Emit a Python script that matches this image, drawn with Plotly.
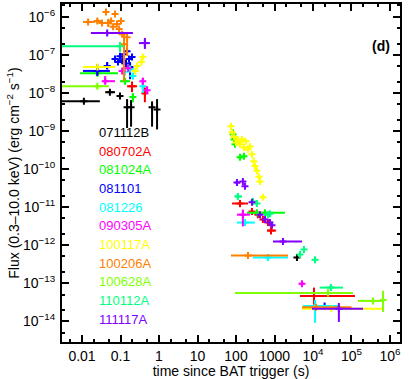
import plotly.graph_objects as go

# each row: (t, t_lo, t_hi, flux, flux_lo, flux_hi)  -- None = no error
grb_071112B = [
    (0.0112, 0.003, 0.029, 6.1e-9, 5.5e-9, 6.8e-9),
    (0.053, 0.040, 0.072, 1.05e-8, None, None),
    (0.097, 0.086, 0.11, 8.3e-9, 7.5e-9, 9.2e-9),
    (0.148, 0.139, 0.157, 4.2e-9, 1.2e-9, 6.9e-9),
    (0.188, 0.177, 0.199, 4.2e-9, 1.3e-9, 6.5e-9),
    (0.66, 0.62, 0.70, 4.2e-9, 1.3e-9, 6.0e-9),
    (0.89, None, None, 3.7e-9, 1.1e-9, 6.9e-9),
    (3830, None, None, 4.7e-13, None, None),
]
grb_080702A = [
    (0.199, 0.148, 0.27, 1.5e-8, 1.05e-8, 2.0e-8),
    (0.43, 0.36, 0.50, 9.8e-9, 5.7e-9, 1.4e-8),
    (127, 79, 205, 1.24e-11, 9.8e-12, 1.5e-11),
    (260, None, None, 7.6e-12, None, None),
    (370, 330, 410, 6.3e-12, 5.5e-12, 7.2e-12),
    (500, None, None, 4.7e-12, None, None),
    (675, None, None, 3.9e-12, None, None),
    (810, 640, 1100, 2.4e-12, 1.9e-12, 3.1e-12),
    (1.06e4, 4590, 1.23e5, 4.6e-14, 2.7e-14, 7.6e-14),
]
grb_081024A = [
    (0.025, 0.0089, 0.086, 3.3e-8, 2.9e-8, 3.8e-8),
    (0.131, 0.097, 0.177, 2.04e-8, None, None),
    (0.21, 0.177, 0.24, 7.8e-9, 5.7e-9, 9.8e-9),
    (84, None, None, 8.1e-10, 6.0e-10, 1.1e-9),
    (89, None, None, 6.0e-10, None, None),
    (94, None, None, 4.5e-10, None, None),
    (127, 112, 151, 2.04e-10, 1.8e-10, 2.4e-10),
    (161, 151, 176, 2.15e-10, None, None),
    (350, None, None, 7.1e-12, None, None),
    (565, 193, 1870, 7.1e-12, 6.3e-12, 8.0e-12),
]
grb_081101 = [
    (0.025, 0.0106, 0.053, 3.8e-8, 2.8e-8, 5.7e-8),
    (0.045, 0.040, 0.053, 5.1e-8, 4.3e-8, 6.5e-8),
    (0.072, None, None, 7.8e-8, None, None),
    (0.086, None, None, 6.5e-8, None, None),
    (0.097, None, None, 9.3e-8, None, None),
    (0.11, None, None, 7.0e-8, None, None),
    (0.123, None, None, 1.05e-7, None, None),
    (0.139, None, None, 6.0e-8, None, None),
    (0.148, None, None, 1.25e-7, None, None),
    (0.166, None, None, 7.8e-8, None, None),
    (0.177, None, None, 4.8e-8, 2.3e-8, 6.5e-8),
    (0.199, None, None, 8.8e-8, None, None),
    (2.0e4, None, None, 2.5e-14, None, None),
]
grb_081226 = [
    (0.131, None, None, 3.6e-8, None, None),
    (0.177, None, None, 4.3e-8, None, None),
    (0.21, None, None, 2.8e-8, 2.3e-8, 3.3e-8),
    (0.38, None, None, 1.5e-8, 1.0e-8, 2.0e-8),
    (171, 106, 310, 3.9e-12, 3.5e-12, 4.4e-12),
    (675, 276, 2240, 4.7e-13, 4.0e-13, 5.6e-13),
    (1.13e4, 5500, 4.46e4, 2.5e-14, 9.0e-15, 3.6e-14),
]
grb_090305A = [
    (0.040, 0.035, 0.072, 2.04e-8, 1.7e-8, 2.8e-8),
    (0.11, None, None, 3.8e-8, None, None),
    (0.157, None, None, 4.5e-8, None, None),
    (0.38, None, None, 2.04e-8, 1.7e-8, 2.5e-8),
    (0.49, None, None, 1.18e-8, 9.3e-9, 1.5e-8),
    (151, 106, 230, 6.3e-12, 3.1e-12, 8.6e-12),
    (5170, 4590, 5830, 9.6e-14, 8.5e-14, 1.1e-13),
]
grb_100117A = [
    (0.025, 0.0106, 0.072, 4.8e-8, None, None),
    (0.24, None, None, 3.8e-8, None, None),
    (0.27, None, None, 5.1e-8, None, None),
    (0.35, None, None, 6.5e-8, None, None),
    (0.38, None, None, 8.8e-8, None, None),
    (74, None, None, 1.33e-9, 1.1e-9, 1.6e-9),
    (79, None, None, 9.3e-10, None, None),
    (89, None, None, 7.0e-10, None, None),
    (100, None, None, 5.0e-10, None, None),
    (112, None, None, 6.0e-10, None, None),
    (127, None, None, 4.5e-10, None, None),
    (143, None, None, 6.0e-10, None, None),
    (161, None, None, 3.7e-10, None, None),
    (180, None, None, 5.4e-10, None, None),
    (205, None, None, 3.3e-10, None, None),
    (230, None, None, 3.9e-10, None, None),
    (260, None, None, 2.45e-10, None, None),
    (290, None, None, 1.6e-10, None, None),
    (310, None, None, 1.2e-10, None, None),
    (350, None, None, 9.0e-11, None, None),
    (395, None, None, 6.3e-11, None, None),
    (420, None, None, 4.7e-11, None, None),
    (500, 440, 570, 1.8e-11, 1.5e-11, 2.2e-11),
    (3.0e4, 5170, 6.6e5, 2.1e-14, None, None),
]
grb_100206A = [
    (0.0144, 0.0106, 0.022, 7.4e-7, None, None),
    (0.025, 0.022, 0.031, 7.8e-7, 6.9e-7, 8.9e-7),
    (0.033, None, None, 6.9e-7, None, None),
    (0.042, None, None, 1.35e-6, None, None),
    (0.048, None, None, 6.9e-7, 5.5e-7, 8.9e-7),
    (0.057, None, None, 7.8e-7, None, None),
    (0.064, None, None, 5.5e-7, None, None),
    (0.072, None, None, 1.2e-6, None, None),
    (0.081, None, None, 6.5e-7, None, None),
    (0.092, None, None, 4.8e-7, None, None),
    (0.103, None, None, 7.8e-7, None, None),
    (0.11, None, None, 3.5e-7, None, None),
    (0.123, None, None, 1.9e-7, 2.0e-8, 4.0e-7),
    (0.148, None, None, 2.9e-7, 9.3e-8, 4.0e-7),
    (205, 74, 2240, 5.3e-13, 4.7e-13, 6.0e-13),
    (1.2e4, 5170, 1.0e5, 2.3e-14, None, None),
]
grb_100628A = [
    (0.025, 0.003, 0.05, 1.5e-8, 1.3e-8, 1.7e-8),
    (2.45e4, 94, 1.09e5, 5.5e-14, 4.5e-14, 6.8e-14),
    (3.6e5, 1.47e5, 6.6e5, 3.4e-14, 3.0e-14, 3.8e-14),
    (6.6e5, 6.2e5, 7.0e5, 3.6e-14, 1.74e-14, 6.3e-14),
]
grb_110112A = [
    (0.097, 0.003, 0.097, 1.7e-7, 1.2e-7, 2.2e-7),
    (112, 94, 143, 1.9e-11, 1.6e-11, 2.3e-11),
    (276, None, None, 1.4e-11, None, None),
    (350, None, None, 1.24e-11, None, None),
    (675, None, None, 6.3e-12, None, None),
    (760, None, None, 6.7e-12, None, None),
    (4590, None, None, 5.6e-13, None, None),
    (5830, None, None, 7.6e-13, None, None),
    (1.13e4, None, None, 4.1e-13, 3.5e-13, 4.8e-13),
    (2.9e4, 1.5e4, 6.0e4, 7.6e-14, 6.3e-14, 9.1e-14),
]
grb_111117A = [
    (0.045, 0.017, 0.21, 3.8e-7, 3.3e-7, 4.3e-7),
    (0.43, 0.30, 0.58, 2.05e-7, 1.44e-7, 2.8e-7),
    (106, 94, 127, 4.4e-11, 3.8e-11, 5.1e-11),
    (151, None, None, 4.7e-11, None, None),
    (171, None, None, 3.5e-11, None, None),
    (260, None, None, 1.33e-11, None, None),
    (420, None, None, 6.3e-12, None, None),
    (565, None, None, 4.7e-12, None, None),
    (760, None, None, 3.9e-12, None, None),
    (860, None, None, 3.3e-12, None, None),
    (1660, 915, 5170, 1.24e-12, 1.1e-12, 1.4e-12),
    (4.7e4, 9380, 2.0e5, 2.1e-14, 9.5e-15, 3.0e-14),
]

grb_names = ["071112B", "080702A", "081024A", "081101", "081226", "090305A",
             "100117A", "100206A", "100628A", "110112A", "111117A"]
grb_colors = ["#000000", "#ff0000", "#00ff00", "#0000ff", "#00ffff", "#ff00ff",
              "#ffff00", "#ff8000", "#80ff00", "#00ff80", "#8000ff"]
grb_data = [grb_071112B, grb_080702A, grb_081024A, grb_081101, grb_081226, grb_090305A,
            grb_100117A, grb_100206A, grb_100628A, grb_110112A, grb_111117A]

x_tickvals = [0.01, 0.1, 1, 10, 100, 1000, 1e4, 1e5, 1e6]
x_ticktext = ["0.01", "0.1", "1", "10", "100", "1000", "10<sup>4</sup>", "10<sup>5</sup>", "10<sup>6</sup>"]
y_exps = [-6, -7, -8, -9, -10, -11, -12, -13, -14]

fig = go.Figure()

for name, col, rows in zip(grb_names, grb_colors, grb_data):
    t = [r[0] for r in rows]
    f = [r[3] for r in rows]
    ex_p = [(r[2] - r[0]) if r[2] else 0 for r in rows]
    ex_m = [(r[0] - r[1]) if r[1] else 0 for r in rows]
    ey_p = [(r[5] - r[3]) if r[5] else 0 for r in rows]
    ey_m = [(r[3] - r[4]) if r[4] else 0 for r in rows]
    fig.add_trace(go.Scatter(
        x=t, y=f, mode="markers", name=name, showlegend=False,
        marker=dict(color=col, size=5, symbol="cross-thin", line=dict(color=col, width=2)),
        error_x=dict(type="data", symmetric=False, array=ex_p, arrayminus=ex_m,
                     color=col, thickness=2, width=0),
        error_y=dict(type="data", symmetric=False, array=ey_p, arrayminus=ey_m,
                     color=col, thickness=2, width=0),
    ))

# the burst names, written as a coloured list
for i, (name, col) in enumerate(zip(grb_names, grb_colors)):
    fig.add_annotation(x=0.104, y=0.620 - i * 0.0552, xref="paper", yref="paper",
                       text=name, showarrow=False, xanchor="left", yanchor="middle",
                       font=dict(color=col, size=13))

fig.add_annotation(x=0.975, y=0.905, xref="paper", yref="paper", text="<b>(d)</b>",
                   showarrow=False, xanchor="right", font=dict(size=14, color="black"))

axis_style = dict(type="log", showline=True, linewidth=2, linecolor="black", mirror="ticks",
                  ticks="inside", ticklen=7, tickwidth=1.5, tickcolor="black",
                  showgrid=False, zeroline=False, tickfont=dict(size=14), automargin=False,
                  minor=dict(ticks="inside", ticklen=3, tickcolor="black", showgrid=False))

fig.update_layout(
    width=409, height=379,
    margin=dict(l=62, r=9, t=4, b=37),
    paper_bgcolor="white", plot_bgcolor="white",
    font=dict(family="Liberation Sans, Arial, sans-serif", size=13, color="black"),
    xaxis=dict(axis_style, range=[-2.52, 6.26], tickvals=x_tickvals, ticktext=x_ticktext,
               title=dict(text="time since BAT trigger (s)", standoff=0, font=dict(size=14))),
    yaxis=dict(axis_style, range=[-14.55, -5.66],
               tickvals=[10 ** e for e in y_exps],
               ticktext=["10<sup>\u2212%d</sup>" % -e for e in y_exps],
               ticklabelstandoff=2,
               title=dict(text="Flux (0.3\u201310.0 keV) (erg cm<sup>\u22122</sup> s<sup>\u22121</sup>)",
                          standoff=0, font=dict(size=14))),
)

# drop the browser's default page margin so the figure sits at the window corner
fig.write_html("out.html", config={"displayModeBar": False},
               post_script="document.body.style.margin='0';")
